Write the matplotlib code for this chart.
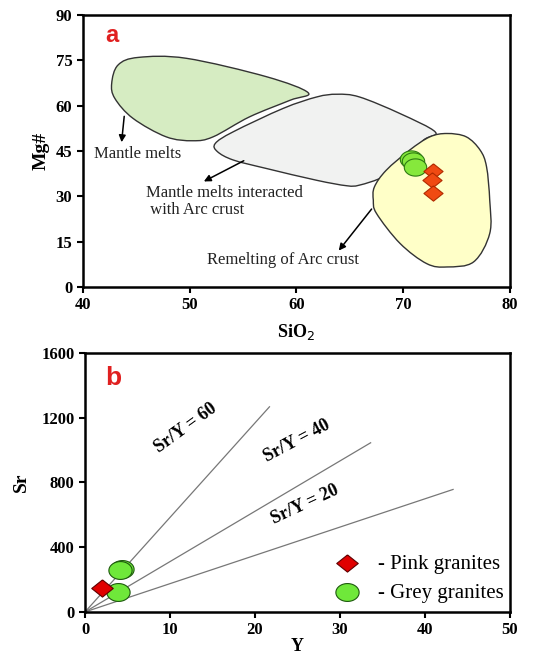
import numpy as np
import matplotlib
matplotlib.use("Agg")
import matplotlib.pyplot as plt
from matplotlib.path import Path
from matplotlib.patches import PathPatch

# panel a: field outlines (SiO2, Mg#)
mantle_x = [43.3, 45.2, 49.7, 57.2, 61.1, 59.4, 55.6, 52.2, 50.3, 47.8, 44.7, 43.0, 42.7]
mantle_y = [73.5, 76.0, 75.7, 69.6, 64.3, 61.8, 56.3, 49.7, 48.4, 49.7, 55.8, 62.4, 67.4]
interact_x = [52.4, 54.1, 58.75, 61.9, 63.8, 65.9, 69.7, 73.0, 71.9, 69.7, 68.1, 65.9, 64.7, 61.9, 57.2, 54.1, 52.6]
interact_y = [47.5, 51.4, 59.1, 62.9, 63.8, 62.9, 57.4, 51.3, 48.6, 40.9, 36.4, 33.7, 33.5, 35.3, 39.2, 42.0, 44.8]
remelt_x = [74.1, 72.5, 70.6, 68.4, 67.3, 67.2, 67.5, 69.7, 72.2, 74.1, 76.6, 78.1, 78.1, 77.8, 77.2, 75.9]
remelt_y = [50.8, 49.7, 45.3, 38.6, 33.1, 28.7, 24.3, 14.4, 7.7, 6.6, 8.3, 17.7, 28.7, 39.8, 45.3, 49.7]

grey_sio2 = [70.7, 70.9, 71.1]
grey_mg = [42.4, 41.6, 39.8]
pink_sio2 = [72.8, 72.7, 72.8]
pink_mg = [38.4, 35.3, 31.2]

# panel b: Sr vs Y
grey_y = [4.3, 4.1, 3.9]
grey_sr = [262, 257, 121]
pink_y = [1.96]
pink_sr = [148]
ratio_labels = ["Sr/Y = 60", "Sr/Y = 40", "Sr/Y = 20"]
ratio_end_y = [21.7, 33.6, 43.3]
ratio_end_sr = [1266, 1044, 756]

plt.rcParams["font.family"] = ["Liberation Serif", "DejaVu Serif"]


def smooth_patch(xs, ys, **kw):
    # closed catmull-rom outline turned into cubic bezier segments
    pts = np.column_stack([xs, ys])
    n = len(pts)
    verts = [pts[0]]
    codes = [Path.MOVETO]
    for i in range(n):
        p0, p1, p2, p3 = pts[i - 1], pts[i], pts[(i + 1) % n], pts[(i + 2) % n]
        verts += [p1 + (p2 - p0) / 6, p2 - (p3 - p1) / 6, p2]
        codes += [Path.CURVE4] * 3
    return PathPatch(Path(verts, codes), **kw)


ellipse = Path(np.column_stack([1.3 * np.cos(np.linspace(0, 2 * np.pi, 60)),
                                np.sin(np.linspace(0, 2 * np.pi, 60))]))
diamond = Path([(0, 1), (1.25, 0), (0, -1), (-1.25, 0), (0, 1)])

fig = plt.figure(figsize=(5.38, 6.58), dpi=100)
ax1 = fig.add_axes([0.154, 0.564, 0.794, 0.413])
ax2 = fig.add_axes([0.158, 0.070, 0.790, 0.394])

# ---- panel a
ax1.add_patch(smooth_patch(mantle_x, mantle_y, facecolor="#d6ecc2", edgecolor="#333333", lw=1.0, zorder=1))
ax1.add_patch(smooth_patch(interact_x, interact_y, facecolor="#f1f2f1", edgecolor="#333333", lw=1.0, zorder=2))
ax1.add_patch(smooth_patch(remelt_x, remelt_y, facecolor="#ffffc8", edgecolor="#333333", lw=1.0, zorder=3))
ax1.scatter(grey_sio2, grey_mg, marker=ellipse, s=260, c="#86e83c", edgecolors="#2d7a12", lw=0.8, zorder=5)
ax1.scatter(pink_sio2, pink_mg, marker=diamond, s=190, c="#f04a12", edgecolors="#b02a00", lw=0.8, zorder=6)

arrow = dict(arrowstyle="-|>", color="black", lw=1.1, mutation_scale=10)
ax1.annotate("", xy=(43.6, 47.0), xytext=(43.9, 57.4), arrowprops=arrow)
ax1.annotate("", xy=(51.1, 34.5), xytext=(55.3, 42.2), arrowprops=arrow)
ax1.annotate("", xy=(63.8, 11.3), xytext=(67.2, 26.5), arrowprops=arrow)
ax1.text(41.0, 43.9, "Mantle melts", fontsize=12, va="center", color="#222222")
ax1.text(45.9, 28.2, "Mantle melts interacted\n with Arc crust", fontsize=12, va="center",
         linespacing=1.1, color="#222222")
ax1.text(51.6, 8.8, "Remelting of Arc crust", fontsize=12, va="center", color="#222222")
ax1.text(42.7, 83.3, "a", fontsize=17, fontweight="bold", color="#e02020", ha="center", va="center",
         family="Liberation Sans")

ax1.set_xlim(40, 80)
ax1.set_ylim(0, 90)
ax1.set_xticks([40, 50, 60, 70, 80])
ax1.set_yticks([0, 15, 30, 45, 60, 75, 90])
ax1.set_xlabel("SiO$_2$", fontsize=13, fontweight="bold", labelpad=6)
ax1.set_ylabel("Mg#", fontsize=14, fontweight="bold", labelpad=4)

# ---- panel b
for lab, ex, ey in zip(ratio_labels, ratio_end_y, ratio_end_sr):
    ax2.plot([0, ex], [0, ey], color="#777777", lw=0.9, zorder=1)
ax2.text(11.8, 1136, ratio_labels[0], rotation=36, fontsize=13, fontweight="bold", ha="center", va="center")
ax2.text(24.9, 1054, ratio_labels[1], rotation=28, fontsize=13, fontweight="bold", ha="center", va="center")
ax2.text(25.9, 663, ratio_labels[2], rotation=25, fontsize=13, fontweight="bold", ha="center", va="center")
ax2.scatter(grey_y, grey_sr, marker=ellipse, s=280, c="#6fe83a", edgecolors="#1e5a0e", lw=0.8, zorder=4,
            label="- Grey granites")
ax2.scatter(pink_y, pink_sr, marker=diamond, s=240, c="#e00000", edgecolors="#600000", lw=0.8, zorder=5,
            label="- Pink granites")
h, l = ax2.get_legend_handles_labels()
ax2.legend(h[::-1], l[::-1], loc="lower right", bbox_to_anchor=(1.02, -0.02), frameon=False, fontsize=15,
           handletextpad=0.5, labelspacing=0.45, borderaxespad=0.3)
ax2.text(3.3, 1446, "b", fontsize=19, fontweight="bold", color="#e02020", ha="center", va="center",
         family="Liberation Sans")

ax2.set_xlim(0, 50)
ax2.set_ylim(0, 1600)
ax2.set_xticks([0, 10, 20, 30, 40, 50])
ax2.set_yticks([0, 400, 800, 1200, 1600])
ax2.set_xlabel("Y", fontsize=13, fontweight="bold", labelpad=0)
ax2.set_ylabel("Sr", fontsize=14, fontweight="bold", labelpad=8)

for ax in (ax1, ax2):
    for sp in ax.spines.values():
        sp.set_linewidth(1.8)
    ax.tick_params(width=1.5, length=4, labelsize=12)
    for t in ax.get_xticklabels() + ax.get_yticklabels():
        t.set_fontweight("bold")

fig.savefig("out.png", dpi=100)
